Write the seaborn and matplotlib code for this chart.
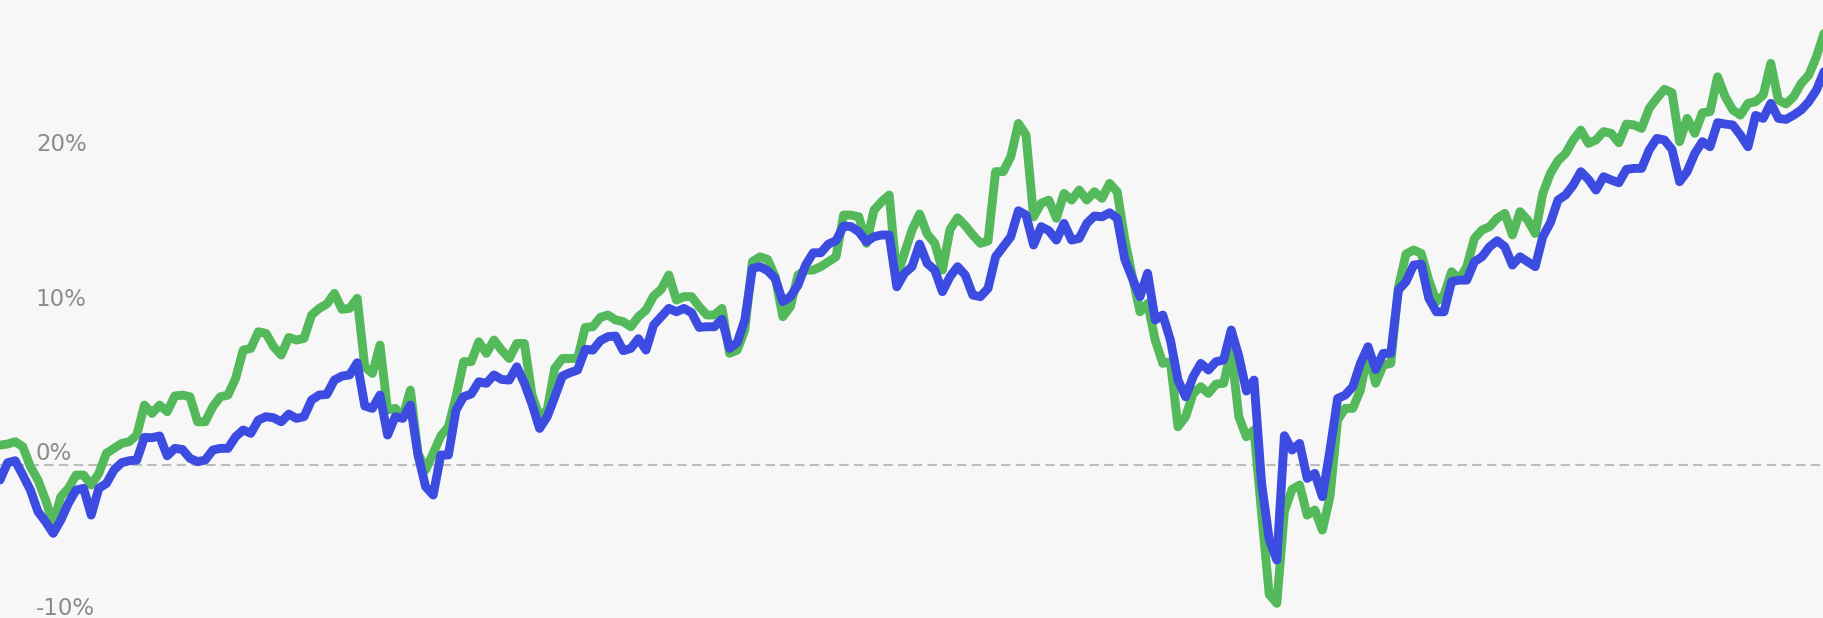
import numpy as np
import pandas as pd
import matplotlib
matplotlib.use("Agg")
import matplotlib.pyplot as plt
import seaborn as sns

# Cumulative return (%) of the two series, one value per trading day
green_return = [
    1.29, 1.36, 1.51, 1.19, -0.11, -0.97, -2.27, -3.80, -2.05, -1.51,
    -0.65, -0.65, -1.29, -0.54, 0.76, 1.08, 1.40, 1.51, 1.94, 3.88,
    3.34, 3.88, 3.45, 4.47, 4.53, 4.42, 2.80, 2.80, 3.78, 4.42,
    4.53, 5.61, 7.44, 7.55, 8.63, 8.52, 7.66, 7.12, 8.26, 8.09,
    8.20, 9.71, 10.14, 10.42, 11.11, 10.08, 10.14, 10.79, 6.36, 5.93,
    7.77, 3.56, 3.67, 3.13, 4.85, 0.76, -0.32, 0.76, 1.88, 2.48,
    4.42, 6.69, 6.69, 7.98, 7.23, 8.09, 7.44, 6.90, 7.87, 7.87,
    4.53, 3.13, 3.56, 6.26, 6.90, 6.90, 6.90, 8.91, 8.95, 9.56,
    9.71, 9.39, 9.28, 8.95, 9.60, 10.03, 10.94, 11.37, 12.30, 10.68,
    10.90, 10.90, 10.25, 9.71, 9.71, 10.14, 7.23, 7.44, 8.74, 13.16,
    13.48, 13.31, 12.19, 9.60, 10.25, 12.30, 12.62, 12.62, 12.84, 13.16,
    13.48, 16.18, 16.18, 16.07, 14.35, 16.50, 17.04, 17.48, 12.19, 13.70,
    15.21, 16.25, 14.95, 14.35, 12.62, 15.25, 16.00, 15.50, 14.89, 14.35,
    14.50, 18.99, 18.99, 19.96, 22.11, 21.36, 16.07, 16.94, 17.15, 15.97,
    17.58, 17.15, 17.80, 17.15, 17.69, 17.26, 18.23, 17.69, 14.61, 12.19,
    9.92, 10.46, 8.09, 6.58, 6.69, 2.48, 3.13, 4.64, 5.07, 4.64,
    5.24, 5.29, 7.44, 3.13, 1.83, 2.27, -3.13, -8.37, -8.95, -3.00,
    -1.58, -1.29, -3.24, -2.91, -4.21, -2.05, 2.91, 3.67, 3.67, 4.85,
    7.23, 5.29, 6.47, 6.58, 11.50, 13.66, 13.92, 13.70, 11.97, 10.57,
    11.00, 12.51, 12.02, 12.84, 14.67, 15.21, 15.43, 15.97, 16.29, 14.89,
    16.40, 15.86, 14.99, 17.58, 18.88, 19.70, 20.17, 21.04, 21.68, 20.82,
    21.04, 21.58, 21.47, 20.86, 22.07, 22.01, 21.79, 23.09, 23.73, 24.32,
    24.10, 20.93, 22.44, 21.47, 22.80, 22.87, 25.13, 23.84, 22.98, 22.65,
    23.41, 23.52, 23.95, 26.00, 23.62, 23.37, 23.84, 24.70, 25.24, 26.43,
    27.94,
]

blue_return = [
    -0.97, 0.15, 0.28, -0.65, -1.62, -3.02, -3.67, -4.42, -3.56, -2.48,
    -1.62, -1.51, -3.24, -1.51, -1.19, -0.32, 0.15, 0.28, 0.32, 1.79,
    1.77, 1.88, 0.60, 1.08, 1.01, 0.43, 0.22, 0.32, 0.97, 1.08,
    1.08, 1.83, 2.27, 2.05, 2.91, 3.13, 3.06, 2.80, 3.30, 3.02,
    3.13, 4.21, 4.53, 4.57, 5.50, 5.76, 5.83, 6.62, 3.82, 3.67,
    4.53, 1.94, 3.13, 3.02, 3.88, 0.65, -1.40, -1.94, 0.65, 0.65,
    3.56, 4.42, 4.60, 5.39, 5.29, 5.83, 5.54, 5.50, 6.36, 5.29,
    3.95, 2.37, 3.13, 4.42, 5.76, 5.98, 6.15, 7.49, 7.44, 8.05,
    8.31, 8.35, 7.40, 7.55, 8.18, 7.44, 9.06, 9.60, 10.14, 9.92,
    10.14, 9.86, 8.91, 8.95, 8.95, 9.43, 7.55, 7.92, 9.39, 12.73,
    12.84, 12.58, 12.08, 10.57, 10.90, 11.65, 12.94, 13.74, 13.74, 14.30,
    14.52, 15.47, 15.43, 15.10, 14.46, 14.78, 14.89, 14.89, 11.54, 12.41,
    12.84, 14.30, 13.05, 12.62, 11.22, 12.19, 12.84, 12.30, 11.00, 10.90,
    11.43, 13.48, 14.13, 14.78, 16.46, 16.18, 14.24, 15.43, 15.17, 14.56,
    15.64, 14.56, 14.67, 15.64, 16.12, 16.07, 16.33, 15.97, 13.31, 12.08,
    10.90, 12.41, 9.39, 9.71, 8.09, 5.50, 4.42, 5.72, 6.58, 6.15,
    6.69, 6.80, 8.74, 7.05, 4.79, 5.50, -1.19, -4.81, -6.15, 1.90,
    0.97, 1.40, -0.86, -0.54, -2.05, 0.97, 4.31, 4.53, 5.07, 6.58,
    7.66, 6.19, 7.23, 7.23, 11.33, 11.87, 12.94, 13.01, 10.79, 9.92,
    9.92, 11.87, 11.97, 11.97, 13.16, 13.48, 14.13, 14.52, 14.13, 12.94,
    13.48, 13.16, 12.84, 14.78, 15.69, 17.15, 17.48, 18.12, 18.99, 18.49,
    17.80, 18.66, 18.45, 18.27, 19.14, 19.20, 19.20, 20.39, 21.14, 21.04,
    20.43, 18.34, 19.00, 20.17, 20.93, 20.60, 22.16, 22.07, 22.01, 21.36,
    20.60, 22.63, 22.44, 23.41, 22.44, 22.37, 22.65, 22.98, 23.52, 24.27,
    25.46,
]

tick_values = [-10, 0, 10, 20]
tick_labels = ["-10%", "0%", "10%", "20%"]

GREEN = "#54b95a"
BLUE = "#3d4ce0"
BG = "#f7f7f7"

sns.set_theme(style="white")
plt.rcParams["font.family"] = ["DejaVu Sans"]
plt.rcParams["lines.scale_dashes"] = False

days = np.arange(len(green_return))
df = pd.DataFrame({"day": days, "green": green_return, "blue": blue_return})

fig = plt.figure(figsize=(18.24, 6.18), dpi=100, facecolor=BG)
ax = fig.add_axes([0, 0, 1, 1])
ax.set_facecolor(BG)

ax.axhline(0, color="#bdbdbd", lw=1.5, ls=(0, (6.8, 3.8)), zorder=1)

sns.lineplot(data=df, x="day", y="green", color=GREEN, lw=6.4, ax=ax,
             zorder=2, solid_joinstyle="round", solid_capstyle="round")
sns.lineplot(data=df, x="day", y="blue", color=BLUE, lw=6.4, ax=ax,
             zorder=3, solid_joinstyle="round", solid_capstyle="round")

ax.set_xlim(0, len(green_return) - 1)
ax.set_ylim(-9.9, 30.1)
ax.axis("off")

for v, lab in zip(tick_values, tick_labels):
    ax.text(0.0197, v + 0.3, lab, transform=ax.get_yaxis_transform(),
            ha="left", va="baseline", fontsize=16.5, color="#8c8c8c", zorder=4)

fig.savefig("out.png", dpi=100, facecolor=BG)
